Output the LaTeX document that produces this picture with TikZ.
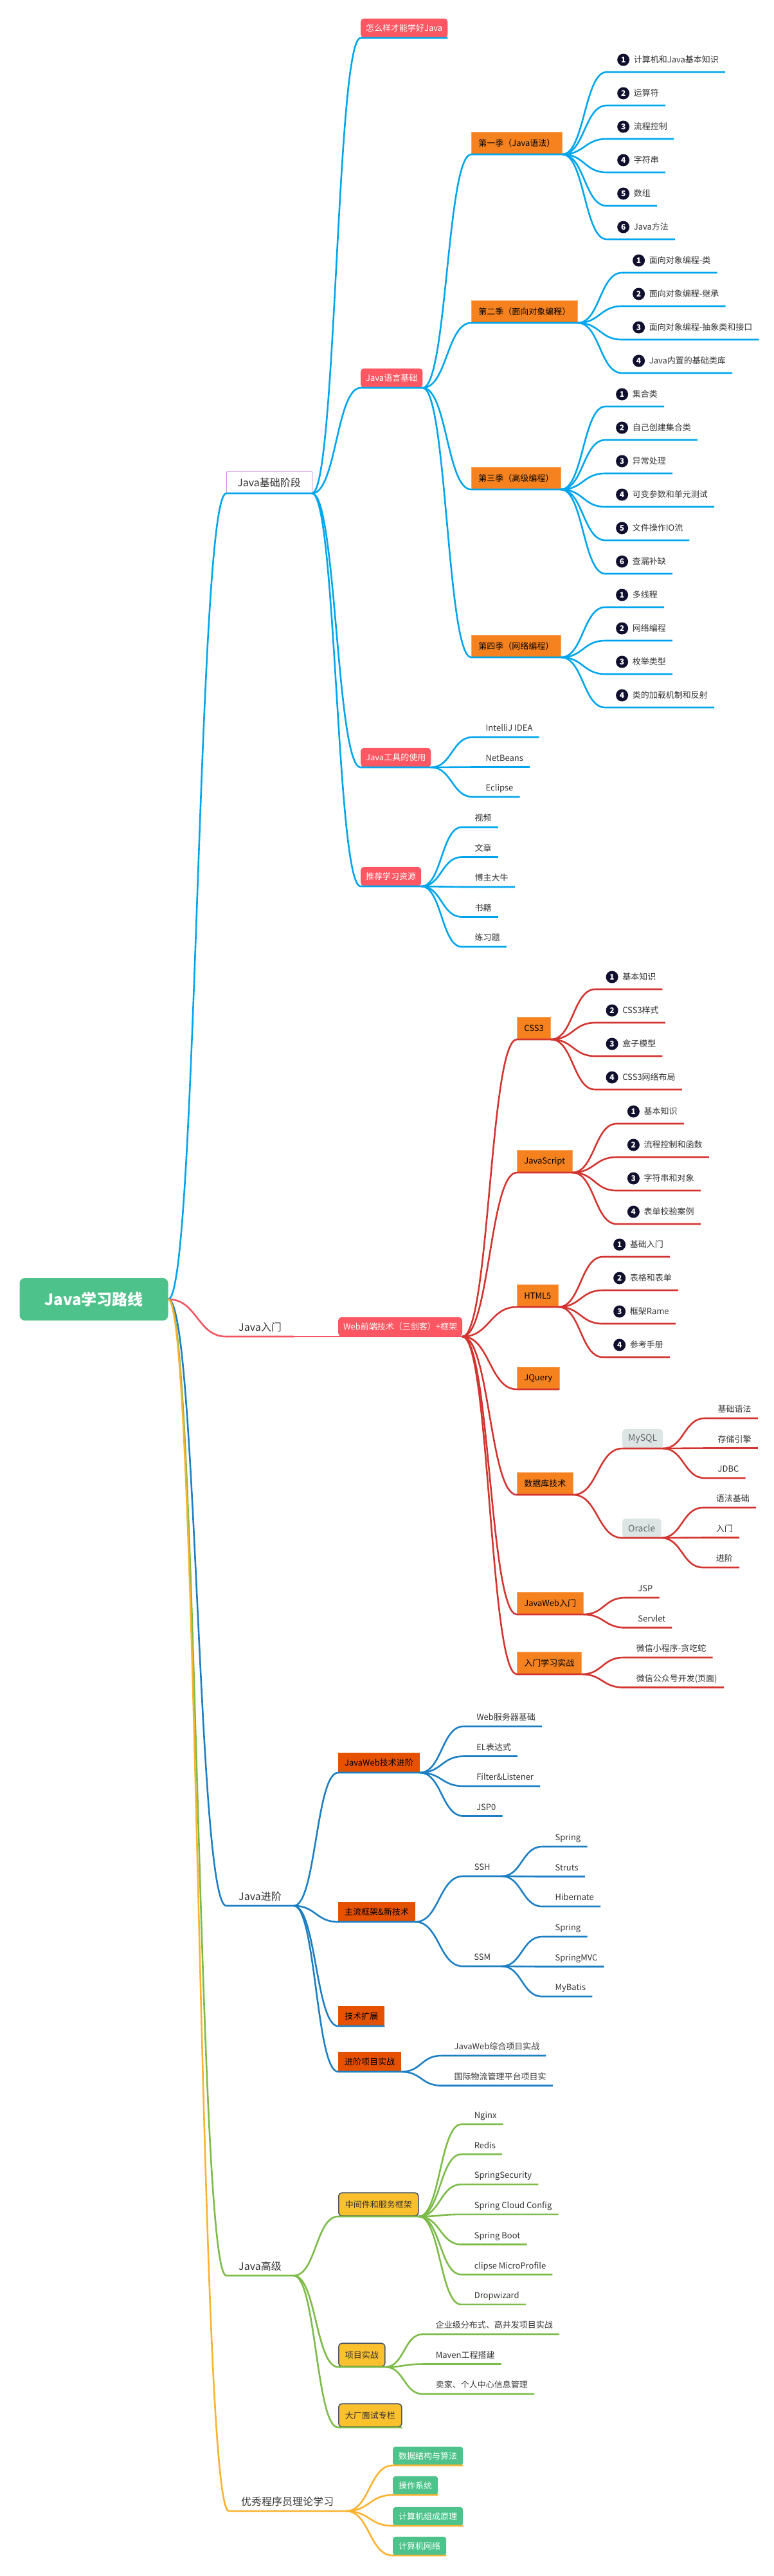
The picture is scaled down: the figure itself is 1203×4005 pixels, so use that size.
\documentclass[tikz,border=0pt]{standalone}
\usepackage{fontspec}
\setmainfont{Noto Sans CJK SC}
\usetikzlibrary{calc}
\definecolor{LineBlue}{HTML}{00A6ED}
\definecolor{NodeRed}{HTML}{FC5762}
\definecolor{BoxOrange}{HTML}{F5821F}
\definecolor{LineRed}{HTML}{D3342F}
\definecolor{LinePink}{HTML}{F4545F}
\definecolor{LineNavy}{HTML}{1C7FC3}
\definecolor{BoxRust}{HTML}{E65100}
\definecolor{LineGreen}{HTML}{7CBB48}
\definecolor{BoxYellow}{HTML}{FBC02D}
\definecolor{BoxEdge}{HTML}{4A5660}
\definecolor{LineAmber}{HTML}{FBB22E}
\definecolor{BoxGreen}{HTML}{4DC38B}
\definecolor{BoxGrey}{HTML}{DCE4E4}
\definecolor{TextGrey}{HTML}{666666}
\definecolor{NumNavy}{HTML}{10102E}
\definecolor{EdgePurple}{HTML}{C98ADF}
\definecolor{TextDark}{HTML}{333333}
\newcommand{\fsz}[1]{\fontsize{#1}{#1}\selectfont}
\tikzset{
  mmcurve/.style={to path={let \p1=(\tikztostart), \p2=(\tikztotarget) in
      .. controls ($(\p1)!0.5!(\x2,\y1)$) and ($(\p2)!0.5!(\x1,\y2)$) .. (\p2) \tikztonodes}},
  lblue/.style={draw=LineBlue, line width=2.6pt},
  lpink/.style={draw=LinePink, line width=2.6pt},
  lred/.style={draw=LineRed, line width=2.6pt},
  lnavy/.style={draw=LineNavy, line width=2.6pt},
  lgreen/.style={draw=LineGreen, line width=2.6pt},
  lamber/.style={draw=LineAmber, line width=2.6pt},
  jroot/.style={fill=BoxGreen, text=white, rounded corners=8pt, minimum width=231pt, minimum height=66pt, font=\fsz{24}\bfseries},
  jstage/.style={anchor=south west, draw=EdgePurple, fill=white, line width=0.8pt, inner xsep=17pt, minimum height=33pt, font=\fsz{16}, text=TextDark},
  jbranch/.style={anchor=south west, inner xsep=19pt, inner ysep=5pt, text height=12pt, text depth=3pt, font=\fsz{16}, text=TextDark},
  jred/.style={anchor=south west, fill=NodeRed, text=white, rounded corners=5pt, inner xsep=8pt, minimum height=30pt, font=\fsz{13}},
  jorange/.style={anchor=south west, fill=BoxOrange, draw=BoxOrange!70!white, line width=0.6pt, text=black, inner xsep=11pt, minimum height=34pt, font=\fsz{13}},
  jrust/.style={anchor=south west, fill=BoxRust, text=black, inner xsep=10pt, minimum height=31pt, font=\fsz{13}},
  jyellow/.style={anchor=south west, fill=BoxYellow, draw=BoxEdge, line width=1.6pt, rounded corners=5pt, text=TextDark, inner xsep=10pt, minimum height=36pt, font=\fsz{13}},
  jgreen/.style={anchor=south west, fill=BoxGreen, text=white, rounded corners=4pt, inner xsep=9pt, minimum height=29pt, font=\fsz{13}},
  jgrey/.style={anchor=south west, fill=BoxGrey, text=TextGrey, rounded corners=5pt, inner xsep=9pt, minimum height=30pt, font=\fsz{14}},
  jmid/.style={anchor=south west, inner xsep=13pt, inner ysep=6pt, text height=10pt, text depth=3pt, minimum width=60pt, font=\fsz{13}, text=TextDark},
  jleafbase/.style={anchor=south west, inner xsep=10pt, inner ysep=6pt, text height=10pt, text depth=3pt, font=\fsz{13}, text=TextDark},
  jleaf/.style={jleafbase, execute at begin node={\hspace*{10pt}}},
  jnumleaf/.style={jleafbase, inner ysep=11pt, execute at begin node={\hspace*{32pt}}},
  jnum/.style={circle, fill=NumNavy, text=white, inner sep=0pt, minimum size=19pt, font=\fsz{12}\bfseries},
}
\begin{document}
\begin{tikzpicture}[x=1pt, y=-1pt]
\useasboundingbox (0,0) rectangle (1203,4005);

% root and first level
\node[jroot] (root) at (146,2020) {Java学习路线};
\node[jstage] (jc) at (352,767) {Java基础阶段};
\node[jbranch] (rm) at (352,2078) {Java入门};
\node[jbranch] (jj) at (352,2963) {Java进阶};
\node[jbranch] (gj) at (352,3538) {Java高级};
\node[jbranch] (ll) at (356,3904) {优秀程序员理论学习};
\draw[lblue] (root.east) to[mmcurve] (jc.south west) -- (jc.south east);
\draw[lpink] (root.east) to[mmcurve] (rm.south west) -- (rm.south east);
\draw[lnavy] (root.east) to[mmcurve] (jj.south west) -- (jj.south east);
\draw[lgreen] (root.east) to[mmcurve] (gj.south west) -- (gj.south east);
\draw[lamber] (root.east) to[mmcurve] (ll.south west) -- (ll.south east);

% Java基础阶段
\node[jred] (how) at (561,59) {怎么样才能学好Java};
\node[jred] (yy) at (561,603) {Java语言基础};
\node[jred] (gy) at (561,1193) {Java工具的使用};
\node[jred] (zy) at (561,1378) {推荐学习资源};
\foreach \c in {how,yy,gy,zy}
  \draw[lblue] (jc.south east) to[mmcurve] (\c.south west) -- (\c.south east);

\node[jorange] (s1) at (733,240) {第一季（Java语法）};
\node[jorange] (s2) at (733,502) {第二季（面向对象编程）};
\node[jorange] (s3) at (733,761) {第三季（高级编程）};
\node[jorange] (s4) at (733,1022) {第四季（网络编程）};
\foreach \c in {s1,s2,s3,s4}
  \draw[lblue] (yy.south east) to[mmcurve] (\c.south west) -- (\c.south east);

\foreach \t [count=\i] in {计算机和Java基本知识,运算符,流程控制,字符串,数组,Java方法} {
  \pgfmathsetmacro{\yy}{60+52*\i}
  \node[jnumleaf, xshift=69pt] (s1l\i) at (s1.south east |- 0,\yy) {\t};
  \node[jnum] (s1n\i) at ([xshift=26pt, yshift=19pt]s1l\i.south west) {\i};
  \draw[lblue] (s1.south east) to[mmcurve] (s1l\i.south west) -- (s1l\i.south east);
}
\foreach \t [count=\i] in {面向对象编程-类,面向对象编程-继承,面向对象编程-抽象类和接口,Java内置的基础类库} {
  \pgfmathsetmacro{\yy}{372+52*\i}
  \node[jnumleaf, xshift=69pt] (s2l\i) at (s2.south east |- 0,\yy) {\t};
  \node[jnum] (s2n\i) at ([xshift=26pt, yshift=19pt]s2l\i.south west) {\i};
  \draw[lblue] (s2.south east) to[mmcurve] (s2l\i.south west) -- (s2l\i.south east);
}
\foreach \t [count=\i] in {集合类,自己创建集合类,异常处理,可变参数和单元测试,文件操作IO流,查漏补缺} {
  \pgfmathsetmacro{\yy}{580+52*\i}
  \node[jnumleaf, xshift=69pt] (s3l\i) at (s3.south east |- 0,\yy) {\t};
  \node[jnum] (s3n\i) at ([xshift=26pt, yshift=19pt]s3l\i.south west) {\i};
  \draw[lblue] (s3.south east) to[mmcurve] (s3l\i.south west) -- (s3l\i.south east);
}
\foreach \t [count=\i] in {多线程,网络编程,枚举类型,类的加载机制和反射} {
  \pgfmathsetmacro{\yy}{892+52*\i}
  \node[jnumleaf, xshift=69pt] (s4l\i) at (s4.south east |- 0,\yy) {\t};
  \node[jnum] (s4n\i) at ([xshift=26pt, yshift=19pt]s4l\i.south west) {\i};
  \draw[lblue] (s4.south east) to[mmcurve] (s4l\i.south west) -- (s4l\i.south east);
}

% tools and resources
\foreach \t [count=\i] in {IntelliJ IDEA,NetBeans,Eclipse} {
  \pgfmathsetmacro{\yy}{1099.5+46.5*\i}
  \node[jleaf, xshift=65pt] (gyl\i) at (gy.south east |- 0,\yy) {\t};
  \draw[lblue] (gy.south east) to[mmcurve] (gyl\i.south west) -- (gyl\i.south east);
}
\foreach \t [count=\i] in {视频,文章,博主大牛,书籍,练习题} {
  \pgfmathsetmacro{\yy}{1239.5+46.5*\i}
  \node[jleaf, xshift=63pt] (zyl\i) at (zy.south east |- 0,\yy) {\t};
  \draw[lblue] (zy.south east) to[mmcurve] (zyl\i.south west) -- (zyl\i.south east);
}

% Java入门
\node[jred] (web) at (526,2078) {Web前端技术（三剑客）+框架};
\draw[lpink] (rm.south east) to[mmcurve] (web.south west) -- (web.south east);
\node[jorange] (css) at (804,1616) {CSS3};
\node[jorange] (js) at (804,1823) {JavaScript};
\node[jorange] (h5) at (804,2032) {HTML5};
\node[jorange] (jq) at (804,2160) {JQuery};
\node[jorange] (db) at (804,2324) {数据库技术};
\node[jorange] (jw) at (804,2510) {JavaWeb入门};
\node[jorange] (sz) at (804,2603) {入门学习实战};
\foreach \c in {css,js,h5,jq,db,jw,sz}
  \draw[lred] (web.south east) to[mmcurve] (\c.south west) -- (\c.south east);

\foreach \t [count=\i] in {基本知识,CSS3样式,盒子模型,CSS3网络布局} {
  \pgfmathsetmacro{\yy}{1486+52*\i}
  \node[jnumleaf, xshift=69pt] (cssl\i) at (css.south east |- 0,\yy) {\t};
  \node[jnum] (cssn\i) at ([xshift=26pt, yshift=19pt]cssl\i.south west) {\i};
  \draw[lred] (css.south east) to[mmcurve] (cssl\i.south west) -- (cssl\i.south east);
}
\foreach \t [count=\i] in {基本知识,流程控制和函数,字符串和对象,表单校验案例} {
  \pgfmathsetmacro{\yy}{1695+52*\i}
  \node[jnumleaf, xshift=69pt] (jsl\i) at (js.south east |- 0,\yy) {\t};
  \node[jnum] (jsn\i) at ([xshift=26pt, yshift=19pt]jsl\i.south west) {\i};
  \draw[lred] (js.south east) to[mmcurve] (jsl\i.south west) -- (jsl\i.south east);
}
\foreach \t [count=\i] in {基础入门,表格和表单,框架Rame,参考手册} {
  \pgfmathsetmacro{\yy}{1902+52*\i}
  \node[jnumleaf, xshift=69pt] (h5l\i) at (h5.south east |- 0,\yy) {\t};
  \node[jnum] (h5n\i) at ([xshift=26pt, yshift=19pt]h5l\i.south west) {\i};
  \draw[lred] (h5.south east) to[mmcurve] (h5l\i.south west) -- (h5l\i.south east);
}

\node[jgrey] (my) at (968,2252) {MySQL};
\node[jgrey] (ora) at (968,2391) {Oracle};
\foreach \c in {my,ora}
  \draw[lred] (db.south east) to[mmcurve] (\c.south west) -- (\c.south east);
\foreach \t [count=\i] in {基础语法,存储引擎,JDBC} {
  \pgfmathsetmacro{\yy}{2158.5+46.5*\i}
  \node[jleaf, xshift=65pt] (myl\i) at (my.south east |- 0,\yy) {\t};
  \draw[lred] (my.south east) to[mmcurve] (myl\i.south west) -- (myl\i.south east);
}
\foreach \t [count=\i] in {语法基础,入门,进阶} {
  \pgfmathsetmacro{\yy}{2297.5+46.5*\i}
  \node[jleaf, xshift=65pt] (oral\i) at (ora.south east |- 0,\yy) {\t};
  \draw[lred] (ora.south east) to[mmcurve] (oral\i.south west) -- (oral\i.south east);
}
\foreach \t [count=\i] in {JSP,Servlet} {
  \pgfmathsetmacro{\yy}{2437.5+46.5*\i}
  \node[jleaf, xshift=65pt] (jwl\i) at (jw.south east |- 0,\yy) {\t};
  \draw[lred] (jw.south east) to[mmcurve] (jwl\i.south west) -- (jwl\i.south east);
}
\foreach \t [count=\i] in {微信小程序-贪吃蛇,微信公众号开发(页面)} {
  \pgfmathsetmacro{\yy}{2530.5+46.5*\i}
  \node[jleaf, xshift=65pt] (szl\i) at (sz.south east |- 0,\yy) {\t};
  \draw[lred] (sz.south east) to[mmcurve] (szl\i.south west) -- (szl\i.south east);
}

% Java进阶
\node[jrust] (jwj) at (526,2756) {JavaWeb技术进阶};
\node[jrust] (zl) at (526,2988) {主流框架\&新技术};
\node[jrust] (kz) at (526,3150) {技术扩展};
\node[jrust] (jx) at (526,3221) {进阶项目实战};
\foreach \c in {jwj,zl,kz,jx}
  \draw[lnavy] (jj.south east) to[mmcurve] (\c.south west) -- (\c.south east);
\foreach \t [count=\i] in {Web服务器基础,EL表达式,Filter\&Listener,JSP0} {
  \pgfmathsetmacro{\yy}{2637.5+46.5*\i}
  \node[jleaf, xshift=68pt] (jwjl\i) at (jwj.south east |- 0,\yy) {\t};
  \draw[lnavy] (jwj.south east) to[mmcurve] (jwjl\i.south west) -- (jwjl\i.south east);
}
\node[jmid] (ssh) at (720,2917) {SSH};
\node[jmid] (ssm) at (720,3057) {SSM};
\foreach \c in {ssh,ssm}
  \draw[lnavy] (zl.south east) to[mmcurve] (\c.south west) -- (\c.south east);
\foreach \t [count=\i] in {Spring,Struts,Hibernate} {
  \pgfmathsetmacro{\yy}{2824.5+46.5*\i}
  \node[jleaf, xshift=63pt] (sshl\i) at (ssh.south east |- 0,\yy) {\t};
  \draw[lnavy] (ssh.south east) to[mmcurve] (sshl\i.south west) -- (sshl\i.south east);
}
\foreach \t [count=\i] in {Spring,SpringMVC,MyBatis} {
  \pgfmathsetmacro{\yy}{2964.5+46.5*\i}
  \node[jleaf, xshift=63pt] (ssml\i) at (ssm.south east |- 0,\yy) {\t};
  \draw[lnavy] (ssm.south east) to[mmcurve] (ssml\i.south west) -- (ssml\i.south east);
}
\foreach \t [count=\i] in {JavaWeb综合项目实战,国际物流管理平台项目实} {
  \pgfmathsetmacro{\yy}{3149.5+46.5*\i}
  \node[jleaf, xshift=62pt] (jxl\i) at (jx.south east |- 0,\yy) {\t};
  \draw[lnavy] (jx.south east) to[mmcurve] (jxl\i.south west) -- (jxl\i.south east);
}

% Java高级
\node[jyellow] (zj) at (526,3446) {中间件和服务框架};
\node[jyellow] (xm) at (526,3680) {项目实战};
\node[jyellow] (ms) at (526,3774) {大厂面试专栏};
\foreach \c in {zj,xm,ms}
  \draw[lgreen] (gj.south east) to[mmcurve] (\c.south west) -- (\c.south east);
\foreach \t [count=\i] in {Nginx,Redis,SpringSecurity,Spring Cloud Config,Spring Boot,clipse MicroProfile,Dropwizard} {
  \pgfmathsetmacro{\yy}{3256+46.7*\i}
  \node[jleaf, xshift=66pt] (zjl\i) at (zj.south east |- 0,\yy) {\t};
  \draw[lgreen] (zj.south east) to[mmcurve] (zjl\i.south west) -- (zjl\i.south east);
}
\foreach \t [count=\i] in {企业级分布式、高并发项目实战,Maven工程搭建,卖家、个人中心信息管理} {
  \pgfmathsetmacro{\yy}{3582.5+46.5*\i}
  \node[jleaf, xshift=58pt] (xml\i) at (xm.south east |- 0,\yy) {\t};
  \draw[lgreen] (xm.south east) to[mmcurve] (xml\i.south west) -- (xml\i.south east);
}

% 优秀程序员理论学习
\node[jgreen] (ds) at (611,3833) {数据结构与算法};
\node[jgreen] (os) at (611,3879) {操作系统};
\node[jgreen] (co) at (611,3927) {计算机组成原理};
\node[jgreen] (cn) at (611,3973) {计算机网络};
\foreach \c in {ds,os,co,cn}
  \draw[lamber] (ll.south east) to[mmcurve] (\c.south west) -- (\c.south east);
\end{tikzpicture}
\end{document}
